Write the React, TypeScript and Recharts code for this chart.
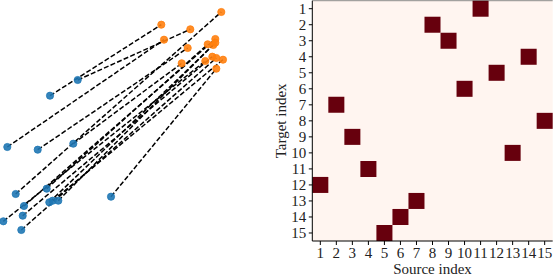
import React from 'react';
import {
  ScatterChart, Scatter, XAxis, YAxis, ReferenceArea, ReferenceLine,
} from 'recharts';

// source cloud (blue) and its matched target cloud (orange), pair i -> i
const blueX = [50, 77.7, 7.3, 37.7, 73.3, 15.7, 3.3, 24, 22.7, 21.3, 46.7, 49.3, 52.7, 58.3, 111];
const blueY = [144.3, 160, 93, 90.3, 96.3, 46, 18.7, 34, 24.3, 10, 51.3, 37.7, 39.3, 39.3, 43.3];
const orangeX = [161.3, 190.3, 164, 187.7, 181.7, 221.3, 205.3, 215.3, 212.3, 216.3, 207.7, 213.3, 223, 215.3, 216.3];
const orangeY = [215.3, 210.7, 200.3, 192, 176.7, 228, 179, 201, 183.3, 182, 195.7, 195, 180.3, 197.3, 171.3];

// permutation matrix: target row i -> source column
const targetIdx = [1, 2, 3, 4, 5, 6, 7, 8, 9, 10, 11, 12, 13, 14, 15];
const sourceIdx = [11, 8, 9, 14, 12, 10, 2, 15, 3, 13, 4, 1, 7, 6, 5];
const ticks = [1, 2, 3, 4, 5, 6, 7, 8, 9, 10, 11, 12, 13, 14, 15];

const FONT = '"Liberation Serif", "DejaVu Serif", serif';
const BLUE = '#1f77b4';
const ORANGE = '#ff7f0e';
const LOW = '#fff5f0';
const HIGH = '#67000d';

const blues = blueX.map((x, i) => ({ x, y: blueY[i] }));
const oranges = orangeX.map((x, i) => ({ x, y: orangeY[i] }));
const pairs = blues.map((b, i) => [b, oranges[i]]);
const cells = targetIdx.map((t, i) => ({ x: sourceIdx[i], y: t }));

const dot = (color: string) => (p: any) => (
  <circle cx={p.cx} cy={p.cy} r={3.6} fill={color} fillOpacity={0.9} stroke={color} strokeWidth={0.8} />
);
const none = () => <g />;

export default function App() {
  return (
    <div style={{ position: 'absolute', left: 0, top: 0, width: 554, height: 276, background: '#fff' }}>
      <div style={{ position: 'absolute', left: 0, top: 0 }}>
        <ScatterChart width={232} height={240} margin={{ top: 0, right: 0, bottom: 0, left: 0 }}>
          <XAxis type="number" dataKey="x" domain={[0, 232]} hide />
          <YAxis type="number" dataKey="y" domain={[0, 240]} hide />
          {pairs.map((pr, i) => (
            <Scatter
              key={`l${i}`}
              data={pr}
              fill="#000"
              line={{ stroke: '#000', strokeWidth: 1.5, strokeDasharray: '5 2.2' }}
              shape={none}
              isAnimationActive={false}
            />
          ))}
          <Scatter data={blues} shape={dot(BLUE)} isAnimationActive={false} />
          <Scatter data={oranges} shape={dot(ORANGE)} isAnimationActive={false} />
        </ScatterChart>
      </div>
      <div style={{ position: 'absolute', left: 260, top: 0 }}>
        <ScatterChart width={294} height={276} margin={{ top: 0.7, right: 1.3, bottom: 0, left: 0 }}>
          <XAxis
            type="number"
            dataKey="x"
            domain={[0.5, 15.5]}
            ticks={ticks}
            interval={0}
            height={35}
            tickSize={4}
            tickMargin={2}
            axisLine={{ stroke: '#000' }}
            tickLine={{ stroke: '#000' }}
            tick={{ fill: '#222', fontSize: 15, fontFamily: FONT }}
            label={{ value: 'Source index', position: 'insideBottom', offset: 2, fill: '#222', fontSize: 15, fontFamily: FONT }}
          />
          <YAxis
            type="number"
            dataKey="y"
            domain={[0.5, 15.5]}
            reversed
            ticks={ticks}
            interval={0}
            width={52.3}
            tickSize={3.5}
            tickMargin={2.5}
            axisLine={{ stroke: '#000' }}
            tickLine={{ stroke: '#000' }}
            tick={{ fill: '#222', fontSize: 15, fontFamily: FONT }}
            label={{
              content: (props: any) => {
                const vb = props.viewBox;
                const cx = 21;
                const cy = vb.y + vb.height / 2;
                return (
                  <text x={cx} y={cy} transform={`rotate(-90 ${cx} ${cy})`} textAnchor="middle"
                    dominantBaseline="central" fill="#222" fontSize={15} fontFamily={FONT}>
                    Target index
                  </text>
                );
              },
            }}
          />
          <ReferenceArea x1={0.5} x2={15.5} y1={0.5} y2={15.5} fill={LOW} fillOpacity={1} stroke="none" />
          {cells.map((c) => (
            <ReferenceArea
              key={c.y}
              x1={c.x - 0.5}
              x2={c.x + 0.5}
              y1={c.y - 0.5}
              y2={c.y + 0.5}
              fill={HIGH}
              fillOpacity={1}
              stroke="none"
            />
          ))}
          <ReferenceLine y={0.5} stroke="#000" strokeOpacity={0.45} />
          <Scatter data={cells} shape={none} isAnimationActive={false} />
        </ScatterChart>
      </div>
    </div>
  );
}
